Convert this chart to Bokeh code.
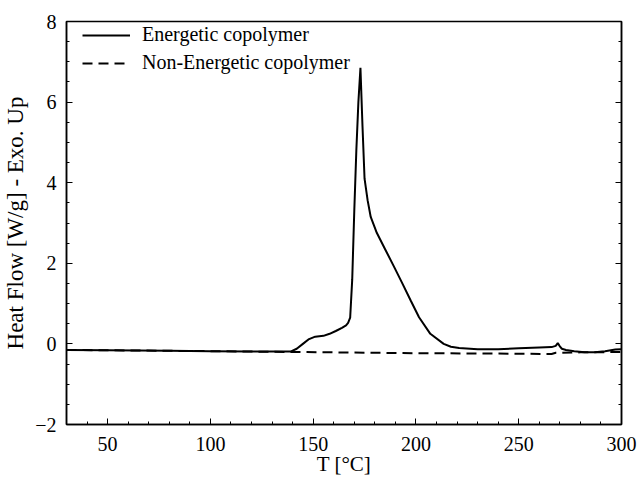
from bokeh.plotting import figure
from bokeh.models import Range1d, LinearAxis, Legend, LegendItem, FixedTicker
from bokeh.embed import file_html
from bokeh.resources import INLINE

# Energetic copolymer
t_energetic = [30, 50, 80, 100, 120, 135, 139, 142, 145, 148, 151, 155, 158, 161, 164,
               166, 167, 168, 169, 170, 171, 172, 173, 174, 175, 176.5, 178, 181, 185,
               189.5, 193.5, 197.5, 201.5, 207, 213.5, 217, 221, 230, 240, 250, 260,
               266, 268, 269, 270, 271, 273, 277, 282, 287, 292, 297, 300]
hf_energetic = [-0.15, -0.16, -0.17, -0.18, -0.19, -0.19, -0.19, -0.12, 0.0, 0.12, 0.18,
                0.2, 0.25, 0.32, 0.4, 0.46, 0.52, 0.65, 1.6, 3.3, 4.8, 6.0, 6.85, 5.4,
                4.1, 3.56, 3.15, 2.75, 2.35, 1.9, 1.49, 1.07, 0.66, 0.25, 0.0, -0.07,
                -0.1, -0.13, -0.13, -0.11, -0.09, -0.08, -0.05, 0.02, -0.06, -0.12, -0.15,
                -0.18, -0.21, -0.21, -0.18, -0.14, -0.13]

# Non-energetic copolymer
t_nonenergetic = [30, 100, 140, 200, 240, 266, 268, 280, 300]
hf_nonenergetic = [-0.15, -0.18, -0.2, -0.23, -0.24, -0.25, -0.22, -0.21, -0.2]

x_ticks = [50, 100, 150, 200, 250, 300]
y_ticks = [-2, 0, 2, 4, 6, 8]

FONT = "Liberation Serif"

p = figure(width=640, height=479, output_backend="svg", toolbar_location=None,
           x_range=Range1d(30, 300), y_range=Range1d(-2, 8),
           min_border_left=62, min_border_right=19, min_border_top=21,
           min_border_bottom=55)
p.background_fill_color = "white"
p.border_fill_color = "white"
p.outline_line_color = "black"
p.outline_line_width = 1.5
p.grid.visible = False

r1 = p.line(t_energetic, hf_energetic, line_color="black", line_width=2)
r2 = p.line(t_nonenergetic, hf_nonenergetic, line_color="black", line_width=2,
            line_dash="10 6")

def style_axis(ax):
    ax.axis_line_color = "black"
    ax.axis_line_width = 1.5
    ax.major_tick_in = 6
    ax.major_tick_out = 0
    ax.minor_tick_in = 3
    ax.minor_tick_out = 0
    ax.major_tick_line_color = "black"
    ax.minor_tick_line_color = "black"
    ax.major_label_text_font = FONT
    ax.major_label_text_font_size = "20px"
    ax.major_label_text_color = "black"

y_minor = [v / 2 for v in range(-4, 17)]

xa = p.xaxis[0]
xa.ticker = FixedTicker(ticks=x_ticks, minor_ticks=list(range(30, 301, 10)))
style_axis(xa)
xa.major_label_standoff = 12
xa.axis_label = "T [°C]"
xa.axis_label_text_font = FONT
xa.axis_label_text_font_style = "normal"
xa.axis_label_text_font_size = "21px"
xa.axis_label_text_color = "black"
xa.axis_label_standoff = -2

ya = p.yaxis[0]
ya.ticker = FixedTicker(ticks=y_ticks, minor_ticks=y_minor)
style_axis(ya)
ya.major_label_standoff = 10
ya.axis_label = "Heat Flow [W/g] - Exo. Up"
ya.axis_label_text_font = FONT
ya.axis_label_text_font_style = "normal"
ya.axis_label_text_font_size = "23px"
ya.axis_label_text_color = "black"
ya.axis_label_standoff = 4

ra = LinearAxis(ticker=FixedTicker(ticks=y_ticks, minor_ticks=y_minor))
style_axis(ra)
ra.major_label_overrides = {v: "" for v in y_ticks}
ra.major_label_standoff = 0
p.add_layout(ra, "right")

legend = Legend(items=[LegendItem(label="Energetic copolymer", renderers=[r1]),
                       LegendItem(label="Non-Energetic copolymer", renderers=[r2])],
                location=(16, 350))
legend.border_line_color = None
legend.background_fill_alpha = 0
legend.label_text_font = FONT
legend.label_text_font_size = "20px"
legend.label_text_color = "black"
legend.glyph_width = 48
legend.label_standoff = 12
legend.spacing = 5
legend.margin = 0
legend.padding = 3
legend.label_height = 22
legend.glyph_height = 22
p.add_layout(legend)

open("out.html", "w").write(file_html(p, INLINE))
